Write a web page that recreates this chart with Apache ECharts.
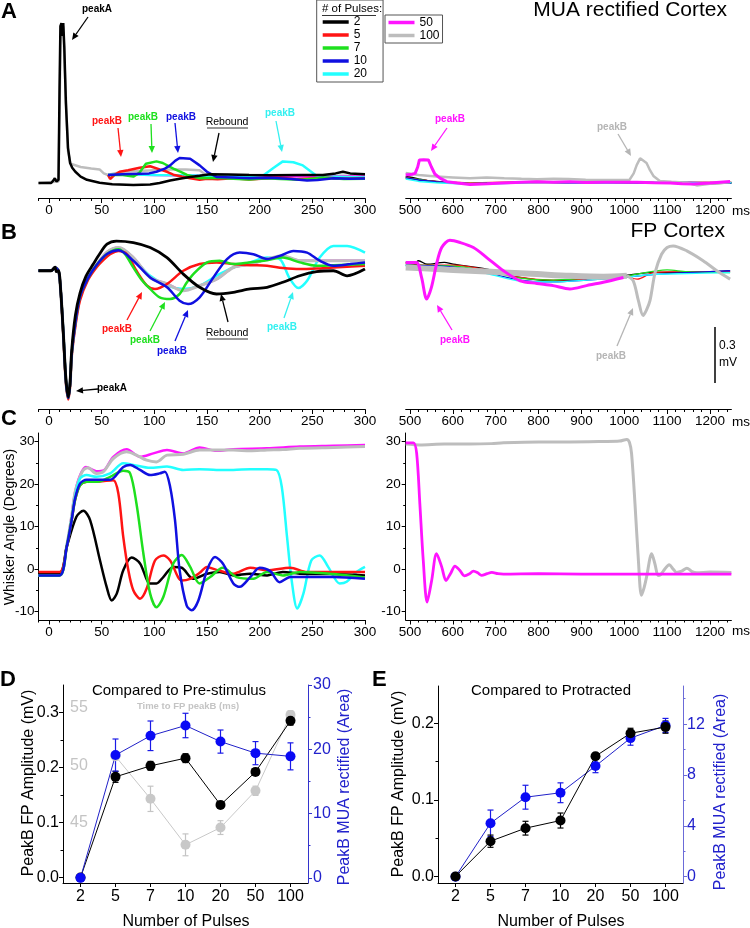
<!DOCTYPE html>
<html><head><meta charset="utf-8">
<script src="https://cdn.jsdelivr.net/npm/echarts@6/dist/echarts.min.js"></script>
<style>html,body{margin:0;padding:0;background:#fff}#c{width:750px;height:928px}</style>
</head><body><div id="c"></div>
<script>
// ---------------- DATA ----------------
const pulseNames = ['2','5','7','10','20','50','100'];
const tickLeft = [0,50,100,150,200,250,300];
const tickRight = [500,600,700,800,900,1000,1100,1200];
const tickC = [-10,0,10,20,30];

// Panel A: MUA rectified (arbitrary units, baseline 0)
const A_L_2 = [[-10,0],[2,0],[4,1.5],[5.5,3],[7,1],[9,2],[10,60],[10.8,98],[11.8,100],[12.6,92],[13.5,100],[14.5,85],[16,50],[18,22],[20,12.5],[22,9.5],[25,7],[30,4],[36,2],[48,0.2],[60,-0.8],[80,-1.3],[96,-1],[105,0],[115,1.5],[124,2.6],[134,3.8],[143,4.5],[153,5.4],[170,5.3],[190,5],[210,4.8],[240,5],[260,5],[272,6],[279,7],[286,6],[300,5.5]];
const A_L_5 = [[56,5],[58,2.5],[62,5],[67,7],[75,8],[86,9.5],[96,10.5],[105,8.5],[112,7],[118,5.2],[126,4],[134,3],[143,2],[150,2.6],[160,2.4],[175,3],[190,2.2],[205,2.8],[220,3.2],[235,2.4],[250,2.8],[265,3.2],[280,2.6],[300,3]];
const A_L_7 = [[56,5],[70,5],[80,4],[86,6.5],[92,12],[102,13.5],[108,12.5],[118,9],[125,7],[131,5],[143,3],[160,3.2],[175,2.6],[190,2.2],[205,3],[220,2.5],[240,2],[260,3.2],[280,2.5],[300,2.6]];
const A_L_10 = [[56,5],[70,5.5],[95,6],[102,7],[110,9],[115,11],[120,14],[124,15.6],[134,15.2],[143,11],[150,7],[159,3.8],[175,3.5],[190,3],[210,3.2],[230,2.5],[245,1.5],[255,1.8],[270,3],[285,2.6],[300,2.8]];
const A_L_20 = [[56,5],[70,5.5],[100,5],[130,4.8],[160,4.2],[185,4],[204,5],[213,9.4],[222,13.5],[232,13],[241,11],[253,5],[265,4],[280,3.8],[300,3.5]];
const A_L_50 = [[56,5],[70,5.5],[100,5],[150,4.5],[200,4.2],[250,4],[300,4]];
const A_L_100 = [[-10,0],[9,1],[11,90],[12,96],[13.5,98],[15,70],[18,20],[20.5,12],[22,11],[30,10],[40,9],[48,8.5],[52,6],[56,5],[62,6],[70,7],[85,7.5],[100,8],[115,8.5],[130,8.5],[143,8],[148,5.5],[160,5.2],[200,5],[250,4.5],[300,4.5]];
const A_R_2 = [[490,4],[505,3.5],[520,2.5],[540,1.5],[580,0.5],[640,-0.5],[720,0],[800,0.5],[880,0],[960,0],[1040,0.5],[1120,0],[1200,-0.5],[1250,0]];
const A_R_5 = [[490,3.5],[520,2],[560,1],[640,0],[720,0.5],[800,1],[880,0.3],[960,0.5],[1040,0.2],[1120,0.3],[1250,0.5]];
const A_R_7 = [[490,3],[520,2.2],[560,0.5],[640,-0.3],[720,0.2],[800,0.5],[880,0.5],[960,0],[1040,0.3],[1120,0],[1250,0.2]];
const A_R_10 = [[490,3.2],[520,1.8],[560,0.8],[640,-0.5],[720,0],[800,0.8],[880,0],[960,0.3],[1040,0],[1120,0.5],[1250,0]];
const A_R_20 = [[490,2.5],[520,1],[560,0.2],[640,-0.8],[720,-0.3],[800,0.5],[880,0.2],[960,0],[1040,0.5],[1120,0],[1250,0.3]];
const A_R_50 = [[490,5],[505,5.5],[512,6],[518,10],[522,14.4],[532,14.6],[543,14.4],[550,10],[558,5.6],[570,3],[586,0.8],[610,0],[640,-0.9],[680,-0.5],[717,0],[760,0.5],[796,0.8],[835,0.5],[873,0.8],[910,0.3],[950,0.5],[990,0.4],[1029,0.5],[1070,0.2],[1107,0],[1135,-0.5],[1160,-0.6],[1200,0],[1247,1]];
const A_R_100 = [[490,6.3],[520,5],[562,4],[600,3.5],[640,3],[679,3.5],[720,3],[760,2.6],[796,2.3],[835,2.6],[870,2.5],[910,2.1],[950,1.9],[1012,1.9],[1022,6],[1029,11.2],[1037,15.4],[1052,12.5],[1060,8],[1068,4.4],[1083,1.3],[1110,0.8],[1146,0.2],[1169,-1.5],[1200,-0.5],[1247,0.5]];

// Panel B: FP (mV)
const B_L_2 = [[-10,0],[2,0],[4,0.01],[5.7,0.02],[7,-0.005],[9,0],[11,-0.1],[13.6,-0.34],[16,-0.58],[18.3,-0.68],[20,-0.6],[21.5,-0.43],[25,-0.24],[29.4,-0.12],[35,-0.03],[42,0.036],[48,0.09],[55,0.143],[64,0.16],[80,0.152],[96,0.125],[112,0.071],[127.5,-0.018],[143,-0.089],[159,-0.125],[175,-0.116],[191,-0.098],[207,-0.089],[222,-0.062],[238,-0.027],[254,-0.005],[270,0],[283,-0.027],[300,0.009]];
const B_L_5 = [[-10,0],[2,0],[5.7,0.018],[9,0],[11,-0.1],[13.6,-0.35],[16,-0.6],[18.3,-0.693],[20,-0.62],[21.5,-0.46],[25,-0.3],[29.4,-0.16],[37,-0.05],[45,0.018],[52,0.06],[58,0.089],[66,0.107],[74,0.089],[83,0],[93,-0.08],[100.6,-0.098],[112,-0.071],[127.5,0],[143,0.036],[159,0.045],[175,0.036],[191,0.03],[207,0.027],[222,0.015],[238,0.009],[254,0.012],[270,0.018],[300,0.027]];
const B_L_7 = [[-10,0],[2,0],[5.7,0.018],[9,0],[11,-0.1],[13.6,-0.34],[16,-0.59],[18.3,-0.685],[20,-0.61],[21.5,-0.45],[25,-0.28],[29.4,-0.14],[37,-0.04],[45,0.03],[55,0.09],[66,0.116],[72,0.09],[80,0.018],[88,-0.05],[96,-0.098],[105,-0.143],[115,-0.152],[124,-0.125],[130,-0.07],[137,-0.018],[150,0.045],[162,0.054],[175,0.036],[190,0.045],[207,0.057],[222,0.071],[238,0.045],[254,0.027],[270,0.03],[300,0.036]];
const B_L_10 = [[-10,0],[2,0],[5.7,0.018],[9,0],[11,-0.1],[13.6,-0.34],[16,-0.59],[18.3,-0.685],[20,-0.61],[21.5,-0.45],[25,-0.28],[29.4,-0.14],[37,-0.04],[45,0.03],[55,0.09],[66,0.11],[80,0.054],[96,-0.036],[112,-0.089],[124,-0.161],[132,-0.179],[143,-0.143],[156,-0.036],[169,0.063],[181,0.098],[194,0.089],[207,0.063],[219,0.08],[232,0.107],[245,0.098],[257,0.054],[270,0.027],[286,0.036],[300,0.045]];
const B_L_20 = [[-10,0],[2,0],[5.7,0.018],[9,0],[11,-0.1],[13.6,-0.34],[16,-0.59],[18.3,-0.685],[20,-0.61],[21.5,-0.45],[25,-0.28],[29.4,-0.14],[37,-0.04],[45,0.03],[55,0.09],[66,0.116],[80,0.063],[96,-0.027],[112,-0.08],[127.5,-0.098],[143,-0.08],[159,-0.027],[175,0.018],[191,0.045],[207,0.071],[219,0.063],[228,-0.036],[236.7,-0.093],[245,-0.054],[257,0.071],[270,0.134],[283,0.134],[300,0.098]];
const B_L_50 = [[-10,0],[2,0],[5.7,0.018],[9,0],[11,-0.1],[13.6,-0.34],[16,-0.59],[18.3,-0.685],[20,-0.61],[21.5,-0.45],[25,-0.28],[29.4,-0.14],[37,-0.04],[45,0.03],[55,0.1],[66,0.124],[80,0.071],[96,-0.035],[112,-0.071],[127.5,-0.105],[143,-0.08],[159,-0.045],[175,0.018],[191,0.036],[207,0.062],[222,0.078],[238,0.054],[270,0.054],[300,0.054]];
const B_L_100 = [[-10,0],[2,0],[5.7,0.018],[9,0],[11,-0.1],[13.6,-0.34],[16,-0.59],[18.3,-0.685],[20,-0.61],[21.5,-0.45],[25,-0.28],[29.4,-0.14],[37,-0.04],[45,0.03],[55,0.1],[66,0.125],[80,0.071],[96,-0.036],[112,-0.071],[127.5,-0.107],[143,-0.08],[159,-0.045],[175,0.018],[191,0.036],[207,0.063],[222,0.08],[238,0.054],[254,0.054],[270,0.054],[300,0.054]];
const B_R_2 = [[490,0.045],[510,0.04],[520,0.054],[540,0.035],[580,0.045],[601,0.036],[679,0.009],[757,-0.036],[834,-0.054],[912,-0.048],[998,-0.027],[1068,-0.009],[1146,-0.009],[1247,0]];
const B_R_5 = [[490,0.04],[540,0.03],[601,0.03],[679,0.005],[757,-0.036],[834,-0.05],[912,-0.045],[998,-0.03],[1030,-0.045],[1068,-0.01],[1146,-0.005],[1247,-0.005]];
const B_R_7 = [[490,0.03],[601,0.025],[679,0],[757,-0.04],[834,-0.05],[912,-0.04],[998,-0.03],[1100,0.005],[1146,-0.005],[1247,-0.01]];
const B_R_10 = [[490,0.03],[601,0.02],[679,-0.01],[757,-0.05],[834,-0.06],[912,-0.05],[998,-0.035],[1068,-0.02],[1146,-0.01],[1247,0]];
const B_R_20 = [[490,0.025],[601,0.015],[679,-0.015],[757,-0.055],[834,-0.06],[912,-0.05],[998,-0.035],[1068,-0.02],[1146,-0.015],[1247,-0.01]];
const B_R_50 = [[490,0.045],[515,0.045],[527,-0.036],[539,-0.152],[550,-0.089],[562,0.036],[574,0.125],[593,0.164],[617,0.152],[648,0.125],[679,0.071],[718,0],[757,-0.054],[796,-0.068],[834,-0.08],[873,-0.098],[912,-0.08],[951,-0.062],[998,-0.036]];
const B_R_100band = [[490,0.018],[562,0.009],[640,0],[718,-0.009],[796,-0.018],[873,-0.027],[951,-0.032],[1006,-0.027]];
const B_R_100 = [[1006,-0.027],[1021,-0.054],[1033,-0.161],[1044,-0.241],[1052,-0.21],[1060,-0.161],[1072,-0.009],[1087,0.089],[1100,0.125],[1114,0.134],[1146,0.107],[1184,0.054],[1216,0],[1247,-0.045]];

// Panel C: whisker angle (degrees)
const C_L_2 = [[-10,-1],[10,-1],[16.8,5.2],[26,12.3],[32.6,13.7],[39,11.5],[48.4,2],[54.7,-4.2],[59.5,-7.4],[64.3,-5.8],[70.5,-0.3],[78.5,2.7],[86.4,1.3],[96,-3.4],[102,-3.4],[108.5,-1.9],[118,0.5],[126,0.3],[137,-2.3],[150,-1.1],[162,-0.7],[175,-1.5],[191,-1.1],[207,-1.5],[222,-0.7],[238,-1.1],[270,-1.2],[300,-1.5]];
const C_L_5 = [[-10,-0.7],[10,-0.7],[16.8,5.2],[21.5,11.5],[24.7,16.2],[29.4,19.7],[35.7,20.5],[48,20.6],[61,20.9],[65.8,17.8],[70.5,7.5],[75.3,-0.3],[80,-5],[86.4,-7],[92.7,-4.6],[100.6,2],[108.5,3.2],[115,2],[126,-2.7],[134,-2.3],[143,-0.9],[150,0.5],[159,-0.2],[175,-1.1],[191,0.3],[207,-0.3],[229,0.3],[245,-0.7],[270,-0.7],[300,-0.7]];
const C_L_7 = [[-10,-1.5],[10,-1.5],[16.8,5.2],[21.5,11.5],[24.7,16.2],[29.4,19.7],[35.7,20.5],[48,20.6],[58,21.7],[70.5,23.1],[77,22.5],[83,15.4],[89.6,3.6],[96,-5.8],[102,-9],[108.5,-6.6],[118,1.3],[126,3.3],[134,0.5],[143,-3.4],[153,-1.9],[165,0.3],[178,-1.9],[194,-2.3],[207,-0.7],[222,-1.5],[238,-0.7],[270,-1.2],[300,-2]];
const C_L_10 = [[-10,-1.5],[10,-1.5],[16.8,5.2],[21.5,11.5],[24.7,16.5],[29.4,20.1],[35.7,21],[45,21],[58,21],[70.5,24],[77,24.5],[86.4,23.3],[96,22.1],[105,22.5],[110,22.9],[115,19.3],[119.6,11.5],[124,-0.3],[130.7,-8.6],[135.5,-9.7],[141.8,-7.4],[150,-0.3],[157.6,2.8],[165,1.3],[175,-3.4],[181,-4.2],[191,-1.9],[200,0.3],[210,-0.5],[219,-3.1],[229,-1.9],[238,-1.9],[270,-1.9],[300,-2.3]];
const C_L_20 = [[-10,-1.5],[10,-1.5],[16.8,5.5],[21.5,12],[24.7,17],[29.4,21.3],[35.7,22.1],[45,21.7],[58,22.5],[70.5,24.9],[80,24.5],[96,23.8],[112,24.1],[127.5,23.3],[143,23.5],[159,23.3],[175,23.3],[191,23.5],[207,23.5],[216,23.3],[221,19.3],[226,7.5],[230.4,-2.7],[235.7,-9.3],[241.5,-5.8],[249,2],[257,3.2],[265,0.5],[276,-3.4],[282.6,-3],[292,-0.7],[300,0.5]];
const C_L_50 = [[-10,-1.5],[10,-1.5],[16.8,5.5],[21.5,12.5],[24.7,18],[29.4,22],[35,24],[45,23],[52,23.2],[61,26.4],[73.7,28.2],[86.4,26.4],[99,27.2],[112,28],[127.5,27.2],[143,28.6],[159,27.8],[175,28.2],[207,28.4],[238,28.8],[270,29],[300,29.2]];
const C_L_100 = [[-10,-1.5],[10,-1.5],[16.8,5.5],[21.5,12.5],[24.7,18],[29.4,21.7],[32.6,23.3],[37,23.8],[45,22.5],[51.6,22.9],[61,26],[73.7,27.6],[83,26.8],[92.7,25.6],[102,25.2],[112,26.8],[127.5,27],[143,28],[159,28],[175,28],[191,27.8],[207,28],[222,28.1],[238,28.4],[270,28.6],[300,28.8]];
const C_R_50 = [[490,29.7],[508,29.7],[515.6,27.2],[523,15.4],[531,2],[540,-7.8],[550.6,-2.7],[562,3.6],[574,0.5],[584,-2.7],[595,-1],[605,0.7],[616,-0.3],[627,-1.6],[638,-1.2],[648,-0.5],[658,-0.9],[667,-1.5],[680,-1.1],[691,-0.8],[705,-1.1],[718,-1.2],[800,-1.1],[900,-1.2],[1000,-1.2],[1100,-1.2],[1250,-1.2]];
const C_R_100 = [[490,29.4],[523,29.2],[580,29.4],[640,29.4],[690,29.5],[718,29.7],[800,29.9],[873,29.9],[950,30],[989,30.1],[1006,30.5],[1012,29.8],[1017,27.2],[1025,15.4],[1033,2],[1040,-6.2],[1046,-4.5],[1052,-1.9],[1064,3.6],[1072,1],[1079,-1.5],[1085,-1.3],[1091,-0.5],[1105,1],[1114,0],[1122,-0.8],[1134,-0.5],[1146,0.2],[1158,-0.6],[1169,-0.9],[1200,-0.7],[1250,-0.8]];

// Panels D & E
const pulseCats = ['2','5','7','10','20','50','100'];
const D_fp = [0, 0.183, 0.203, 0.217, 0.132, 0.192, 0.285];
const D_fpErr = [0, 0.010, 0.008, 0.008, 0.003, 0.006, 0.008];
const D_mua = [0, 19.1, 22.1, 23.7, 21.2, 19.4, 18.9];
const D_muaErr = [0, 2.5, 2.3, 1.9, 1.8, 1.8, 2.1];
const D_time = [null, 50.8, 47.1, 43.1, 44.6, 47.8, 54.4];
const D_timeErr = [null, 0.3, 1.1, 0.95, 0.6, 0.4, 0.36];
const E_fp = [0, 0.046, 0.063, 0.073, 0.157, 0.187, 0.195];
const E_fpErr = [0, 0.008, 0.009, 0.0098, 0.004, 0.0065, 0.008];
const E_mua = [0, 4.2, 6.25, 6.6, 8.7, 10.9, 11.9];
const E_muaErr = [0, 1.04, 0.94, 0.78, 0.52, 0.56, 0.55];

// ---------------- BUILD ----------------
const FF = '"Liberation Sans", Arial, Helvetica, sans-serif';
const COL = {'2':'#000000','5':'#ff1414','7':'#1ee01e','10':'#1010e0','20':'#22ffff','50':'#ff14ff','100':'#bdbdbd'};
const grids=[], xAxes=[], yAxes=[], series=[];
function addGrid(r){grids.push(Object.assign({containLabel:false, outerBoundsMode:'none'}, r)); return grids.length-1;}
function range(a,b,s){const o=[];for(let v=a;v<=b+1e-9;v+=s)o.push(v);return o;}
const plain = v => String(v);
function timeX(g,min,max,majors,minors){
  const i = xAxes.push({type:'value',gridIndex:g,min,max,position:'bottom',
    axisLine:{show:true,onZero:false,lineStyle:{color:'#000',width:1}},
    axisTick:{show:true,customValues:majors,length:4.5,lineStyle:{color:'#000',width:1}},
    axisLabel:{show:true,customValues:majors,color:'#000',fontSize:13.5,fontFamily:FF,margin:5,formatter:plain},
    splitLine:{show:false}})-1;
  xAxes.push({type:'value',gridIndex:g,min,max,position:'bottom',
    axisLine:{show:false,onZero:false},
    axisTick:{show:true,customValues:minors,length:2.5,lineStyle:{color:'#000',width:1}},
    axisLabel:{show:false},splitLine:{show:false}});
  return i;
}
function yHidden(g,min,max){return yAxes.push({type:'value',gridIndex:g,min,max,show:false,axisLine:{onZero:false}})-1;}
function yShown(g,min,max,majors,minors,o){
  o=o||{};
  const color=o.color||'#000';
  const i = yAxes.push({type:'value',gridIndex:g,min,max,position:o.pos||'left',
    axisLine:{show:true,onZero:false,lineStyle:{color:o.lineColor||color,width:1}},
    axisTick:{show:true,customValues:majors,length:o.tick||4,inside:!!o.inside,lineStyle:{color:o.lineColor||color,width:1}},
    axisLabel:{show:true,customValues:majors,color,fontSize:o.fs||13.5,fontFamily:FF,margin:o.margin||4,formatter:o.fmt||plain},
    splitLine:{show:false}})-1;
  if(minors) yAxes.push({type:'value',gridIndex:g,min,max,position:o.pos||'left',
    axisLine:{show:false,onZero:false},
    axisTick:{show:true,customValues:minors,length:2.5,inside:!!o.inside,lineStyle:{color:o.lineColor||color,width:1}},
    axisLabel:{show:false},splitLine:{show:false}});
  return i;
}
function ln(name,data,xi,yi,o){
  o=o||{};
  const color=o.color||COL[name];
  series.push({type:'line',name,data,xAxisIndex:xi,yAxisIndex:yi,symbol:'none',showSymbol:false,
    smooth:o.smooth||false,lineStyle:{color,width:o.w||2.5,opacity:1},itemStyle:{color},
    silent:true,animation:false,z:o.z||2});
}
const minorL = range(-10,300,10), minorR = range(500,1240,20);

// Grids
const gAL=addGrid({left:38.5,top:16,width:326.5,height:182.5});
const gAR=addGrid({left:405.7,top:16,width:325.7,height:182.5});
const gBL=addGrid({left:38.5,top:225,width:326.5,height:184.5});
const gBR=addGrid({left:405.7,top:225,width:325.7,height:184.5});
const gCL=addGrid({left:38.5,top:433,width:326.5,height:187});
const gCR=addGrid({left:405.7,top:433,width:325.7,height:187});
const gD=addGrid({left:63,top:685,width:245,height:198});
const gE=addGrid({left:438,top:686,width:245,height:197});

const xAL=timeX(gAL,-10,300,tickLeft,minorL), yAL=yHidden(gAL,-9.7,104.4);
const xAR=timeX(gAR,490,1250,tickRight,minorR), yAR=yHidden(gAR,-9.7,104.4);
const xBL=timeX(gBL,-10,300,tickLeft,minorL), yBL=yHidden(gBL,-0.747,0.2464);
const xBR=timeX(gBR,490,1250,tickRight,minorR), yBR=yHidden(gBR,-0.747,0.2464);
const xCL=timeX(gCL,-10,300,tickLeft,minorL), yCL=yShown(gCL,-12,32,tickC,[-5,5,15,25],{fs:13.5,margin:4});
const xCR=timeX(gCR,490,1250,tickRight,minorR), yCR=yShown(gCR,-12,32,tickC,[-5,5,15,25],{fs:13.5,margin:5});

function catX(g){
  return xAxes.push({type:'category',gridIndex:g,data:pulseCats,boundaryGap:true,position:'bottom',
    axisLine:{show:true,onZero:false,lineStyle:{color:'#000',width:1}},
    axisTick:{show:true,alignWithLabel:true,length:4,lineStyle:{color:'#000'}},
    axisLabel:{color:'#000',fontSize:16,fontFamily:FF,margin:6,interval:0},splitLine:{show:false}})-1;
}
const xD=catX(gD), xE=catX(gE);
const yDl=yShown(gD,-0.01,0.35,[0,0.1,0.2,0.3],[0.05,0.15,0.25],{fs:16,margin:4,fmt:v=>v.toFixed(1)});
const yDr=yShown(gD,-0.8,30,[0,10,20,30],[5,15,25],{pos:'right',fs:16,margin:5,color:'#2222cc',lineColor:'#3333cc'});
const yDt=yAxes.push({type:'value',gridIndex:gD,min:39.78,max:57.0,position:'left',
  axisLine:{show:false,onZero:false},axisTick:{show:false},
  axisLabel:{show:true,inside:true,customValues:[45,50,55],color:'#c4c4c4',fontSize:16,fontFamily:FF,margin:7},
  splitLine:{show:false}})-1;
const yEl=yShown(gE,-0.0086,0.2487,[0,0.1,0.2],[0.05,0.15],{fs:16,margin:4,fmt:v=>v.toFixed(1)});
const yEr=yShown(gE,-0.5,15,[0,4,8,12],[2,6,10,14],{pos:'right',fs:16,margin:4,color:'#2222cc',lineColor:'#6b6bd8'});

// Panel A series
ln('100',A_L_100,xAL,yAL,{w:2.5});
ln('50',A_L_50,xAL,yAL);
ln('20',A_L_20,xAL,yAL);
ln('5',A_L_5,xAL,yAL);
ln('7',A_L_7,xAL,yAL);
ln('10',A_L_10,xAL,yAL);
ln('2',A_L_2,xAL,yAL,{w:2.5});
ln('2',A_R_2,xAR,yAR,{w:1.5});
ln('5',A_R_5,xAR,yAR,{w:1.5});
ln('7',A_R_7,xAR,yAR,{w:1.5});
ln('10',A_R_10,xAR,yAR,{w:1.5});
ln('20',A_R_20,xAR,yAR,{w:1.5});
ln('100',A_R_100,xAR,yAR);
ln('50',A_R_50,xAR,yAR,{w:3});

// Panel B series
const sm=0.3;
ln('50',B_L_50,xBL,yBL,{smooth:sm});
ln('20',B_L_20,xBL,yBL,{smooth:sm});
ln('100',B_L_100,xBL,yBL,{smooth:sm,w:3.2});
ln('5',B_L_5,xBL,yBL,{smooth:sm});
ln('7',B_L_7,xBL,yBL,{smooth:sm});
ln('10',B_L_10,xBL,yBL,{smooth:sm});
ln('2',B_L_2,xBL,yBL,{smooth:sm,w:2.8});
ln('2',B_R_2,xBR,yBR,{smooth:sm,w:1.3});
ln('5',B_R_5,xBR,yBR,{smooth:sm,w:1.3});
ln('7',B_R_7,xBR,yBR,{smooth:sm,w:1.3});
ln('10',B_R_10,xBR,yBR,{smooth:sm,w:1.3});
ln('20',B_R_20,xBR,yBR,{smooth:sm,w:1.3});
ln('100',B_R_100band,xBR,yBR,{smooth:sm,w:6});
ln('100',B_R_100,xBR,yBR,{smooth:sm,w:3});
ln('50',B_R_50,xBR,yBR,{smooth:sm,w:3});

// Panel C series
ln('50',C_L_50,xCL,yCL,{smooth:sm});
ln('100',C_L_100,xCL,yCL,{smooth:sm,w:3});
ln('20',C_L_20,xCL,yCL,{smooth:sm});
ln('2',C_L_2,xCL,yCL,{smooth:sm});
ln('5',C_L_5,xCL,yCL,{smooth:sm});
ln('7',C_L_7,xCL,yCL,{smooth:sm});
ln('10',C_L_10,xCL,yCL,{smooth:sm});
ln('100',C_R_100,xCR,yCR,{smooth:sm,w:3});
ln('50',C_R_50,xCR,yCR,{smooth:sm,w:2.8});

// D & E
function errBars(vals,errs,xi,yi,color){
  const data=[];
  vals.forEach((v,i)=>{ if(v!=null) data.push([i, v-errs[i], v+errs[i]]); });
  series.push({type:'custom',xAxisIndex:xi,yAxisIndex:yi,silent:true,z:3,animation:false,data,
    encode:{x:0,y:[1,2]},
    renderItem:(p,api)=>{
      const lo=api.coord([api.value(0),api.value(1)]), hi=api.coord([api.value(0),api.value(2)]);
      const cw=3, st={stroke:color,lineWidth:1.2};
      return {type:'group',children:[
        {type:'line',shape:{x1:lo[0],y1:lo[1],x2:hi[0],y2:hi[1]},style:st},
        {type:'line',shape:{x1:lo[0]-cw,y1:lo[1],x2:lo[0]+cw,y2:lo[1]},style:st},
        {type:'line',shape:{x1:hi[0]-cw,y1:hi[1],x2:hi[0]+cw,y2:hi[1]},style:st}]};
    }});
}
function pts(name,vals,xi,yi,color,lineColor){
  series.push({type:'line',name,data:vals,xAxisIndex:xi,yAxisIndex:yi,symbol:'circle',symbolSize:10,showSymbol:true,
    lineStyle:{color:lineColor||color,width:1},itemStyle:{color,borderWidth:0},silent:true,animation:false,z:4});
}
errBars(D_time,D_timeErr,xD,yDt,'#c4c4c4'); pts('D time',D_time,xD,yDt,'#c8c8c8');
errBars(D_fp,D_fpErr,xD,yDl,'#000'); pts('D fp',D_fp,xD,yDl,'#000');
errBars(D_mua,D_muaErr,xD,yDr,'#1a1ae6'); pts('D mua',D_mua,xD,yDr,'#0a0af5','#2020c8');
errBars(E_mua,E_muaErr,xE,yEr,'#1a1ae6'); pts('E mua',E_mua,xE,yEr,'#0a0af5','#2020c8');
errBars(E_fp,E_fpErr,xE,yEl,'#000'); pts('E fp',E_fp,xE,yEl,'#000');

// ---------------- ANNOTATIONS ----------------
function T(text,x,y,fill,font,align,rot){
  return {type:'text',x,y,rotation:rot||0,silent:true,z:100,
    style:{text,fill,font,align:align||'center',verticalAlign:'middle'}};
}
function SEG(x1,y1,x2,y2,c,w){return {type:'line',silent:true,z:100,shape:{x1,y1,x2,y2},style:{stroke:c,lineWidth:w||1}};}
function ARW(x1,y1,x2,y2,c){
  const dx=x2-x1, dy=y2-y1, L=Math.hypot(dx,dy), ux=dx/L, uy=dy/L, h=7, w=3.2;
  const bx=x2-ux*h, by=y2-uy*h;
  return [SEG(x1,y1,bx,by,c,1.3),
    {type:'polygon',silent:true,z:100,shape:{points:[[x2,y2],[bx-uy*w,by+ux*w],[bx+uy*w,by-ux*w]]},style:{fill:c}}];
}
const fB='bold 10px '+FF, fR='10.5px '+FF, fL='bold 22px '+FF;
const GR='#b5b5b5';
let gfx=[
  T('A',1,12,'#000',fL,'left'), T('B',1,233,'#000',fL,'left'), T('C',1,419,'#000',fL,'left'),
  T('D',0,680,'#000',fL,'left'), T('E',372,680,'#000',fL,'left'),
  T('MUA rectified Cortex',727,10,'#000','21px '+FF,'right'),
  T('FP Cortex',725,231,'#000','21px '+FF,'right'),
  T('ms',741,211,'#000','13.5px '+FF), T('ms',741,422,'#000','13.5px '+FF), T('ms',741,631,'#000','13.5px '+FF),
  T('# of Pulses:',322,9,'#000','11.5px '+FF,'left'), SEG(322,15.5,376,15.5,'#000',0.8),
  // Panel A annotations
  T('peakA',97,9,'#000',fB), ...ARW(88,17,72,40,'#000'),
  T('peakB',107,121,COL['5'],fB), ...ARW(118,128,121,157,COL['5']),
  T('peakB',143,117,COL['7'],fB), ...ARW(151,124,152,153,COL['7']),
  T('peakB',181,117,COL['10'],fB), ...ARW(175,123,178,153,COL['10']),
  T('Rebound',227,122,'#000',fR), SEG(207,128,248,128,'#000',0.8), ...ARW(219,133,213,162,'#000'),
  T('peakB',280,113,'#33f0f0',fB), ...ARW(276,121,282,152,'#33f0f0'),
  T('peakB',450,119,COL['50'],fB), ...ARW(447,128,431,151,COL['50']),
  T('peakB',612,127,GR,fB), ...ARW(618,134,631,156,GR),
  // Panel B annotations
  T('peakA',112,388,'#000',fB), ...ARW(98,389,76,391,'#000'),
  T('peakB',117,329,COL['5'],fB), ...ARW(127,320,142,292,COL['5']),
  T('peakB',145,340,COL['7'],fB), ...ARW(150,331,165,302,COL['7']),
  T('peakB',172,351,COL['10'],fB), ...ARW(175,341,188,310,COL['10']),
  T('Rebound',227,333,'#000',fR), SEG(207,339,248,339,'#000',0.8), ...ARW(228,322,221,294,'#000'),
  T('peakB',282,327,'#33f0f0',fB), ...ARW(284,318,293,292,'#33f0f0'),
  T('peakB',455,340,COL['50'],fB), ...ARW(452,330,437,305,COL['50']),
  T('peakB',611,356,GR,fB), ...ARW(617,346,633,308,GR),
  // scale bar
  SEG(715,327,715,383,'#000',1.5), T('0.3',719,346,'#000','12px '+FF,'left'), T('mV',719,363,'#000','12px '+FF,'left'),
  // C axis name
  T('Whisker Angle (Degrees)',10,527,'#000','14px '+FF,'center',Math.PI/2),
  // D
  T('Compared to Pre-stimulus',179,691,'#000','15px '+FF),
  T('Time to FP peakB (ms)',188,706,'#c4c4c4','bold 9.5px '+FF),
  T('PeakB FP Amplitude (mV)',29,783,'#000','16px '+FF,'center',Math.PI/2),
  T('PeakB MUA rectified (Area)',345,787,'#2222cc','16px '+FF,'center',Math.PI/2),
  T('Number of Pulses',186,922,'#000','16px '+FF),
  // E
  T('Compared to Protracted',551,691,'#000','15px '+FF),
  T('PeakB FP Amplitude (mV)',398.5,784,'#000','16px '+FF,'center',Math.PI/2),
  T('PeakB MUA rectified (Area)',721,792,'#2222cc','16px '+FF,'center',Math.PI/2),
  T('Number of Pulses',561,922,'#000','16px '+FF)
];

const option = {
  animation:false,
  textStyle:{fontFamily:FF},
  grid:grids, xAxis:xAxes, yAxis:yAxes, series,
  legend:[
    {data:['2','5','7','10','20'],orient:'vertical',left:316.7,top:0,padding:[16,16,2,6],itemGap:1,
     itemWidth:26,itemHeight:3.5,icon:'rect',borderColor:'#555',borderWidth:1,selectedMode:false,
     textStyle:{fontSize:12,fontFamily:FF,color:'#000',lineHeight:12}},
    {data:['50','100'],orient:'vertical',left:385,top:15,padding:[1.5,3,1.5,3.5],itemGap:1,
     itemWidth:26,itemHeight:3.5,icon:'rect',borderColor:'#555',borderWidth:1,selectedMode:false,
     textStyle:{fontSize:12,fontFamily:FF,color:'#000',lineHeight:12}}
  ],
  graphic:gfx
};
const chart = echarts.init(document.getElementById('c'), null, {renderer:'canvas'});
chart.setOption(option);
</script></body></html>
